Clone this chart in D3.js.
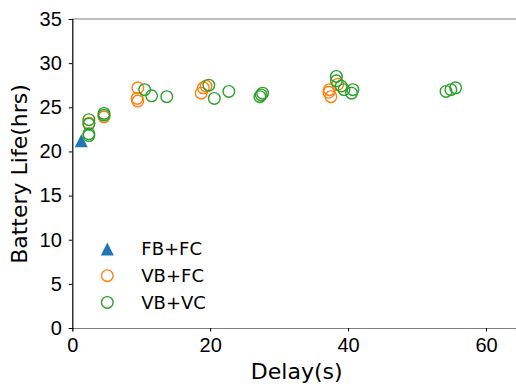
<!DOCTYPE html>
<html>
<head>
<meta charset="utf-8">
<script src="https://cdn.jsdelivr.net/npm/d3@7"></script>
<style>
  body { margin: 0; background: #fff; }
  svg { display: block; font-family: 'DejaVu Sans', sans-serif; }
</style>
</head>
<body>
<div id="chart"></div>
<script>
// Series data (delay in s, battery life in hrs)
const fbfcDelay = [1.3];
const fbfcLife = [21.2];

const vbfcDelay = [2.4, 4.6, 9.5, 9.4, 9.5, 18.7, 19.0, 19.4, 37.3, 37.5, 37.2, 38.5];
const vbfcLife = [23.2, 23.9, 27.2, 26.0, 25.7, 26.6, 27.2, 27.4, 27.0, 26.2, 26.7, 27.6];

const vbvcDelay = [2.4, 2.4, 2.4, 2.4, 4.6, 4.6, 10.5, 11.5, 13.7, 19.8, 20.6, 22.7,
  27.2, 27.6, 27.4, 38.3, 38.3, 39.0, 39.4, 40.7, 40.5, 54.2, 54.9, 55.6];
const vbvcLife = [23.6, 23.1, 22.0, 21.8, 24.3, 24.1, 27.0, 26.3, 26.2, 27.5, 26.0, 26.8,
  26.2, 26.6, 26.4, 28.5, 28.0, 27.4, 27.0, 27.0, 26.6, 26.8, 27.0, 27.2];

const seriesNames = ['FB+FC', 'VB+FC', 'VB+VC'];
const xTicks = [0, 20, 40, 60];
const yTicks = [0, 5, 10, 15, 20, 25, 30, 35];

const colors = ['#1f77b4', '#ff7f0e', '#2ca02c'];

const W = 516;
const H = 386;
const margin = { top: 19, right: 0, bottom: 58, left: 72.3 };

const svg = d3
  .select('#chart')
  .append('svg')
  .attr('width', W)
  .attr('height', H);

const x = d3.scaleLinear().domain([0, 64.35]).range([margin.left, W - margin.right]);
const y = d3.scaleLinear().domain([0, 35]).range([H - margin.bottom, margin.top]);

const zip = (xs, ys) => xs.map((v, i) => ({ x: v, y: ys[i] }));
const series = [zip(fbfcDelay, fbfcLife), zip(vbfcDelay, vbfcLife), zip(vbvcDelay, vbvcLife)];

// marker shapes
const tri = 'M0,-6.5L-6.5,6.5L6.5,6.5Z';

// top spine
svg
  .append('line')
  .attr('x1', x(0))
  .attr('x2', W)
  .attr('y1', y(35))
  .attr('y2', y(35))
  .attr('stroke', '#808080')
  .attr('stroke-width', 1.2);

// x axis
const xAxis = svg
  .append('g')
  .attr('transform', `translate(0, ${y(0)})`)
  .call(d3.axisBottom(x).tickValues(xTicks).tickSize(3.5).tickPadding(6).tickFormat(d3.format('d')));
xAxis.select('.domain').attr('stroke', '#808080').attr('stroke-width', 1.2);
xAxis.selectAll('text').style('font-size', '20px').attr('fill', '#000');

// y axis
const yAxis = svg
  .append('g')
  .attr('transform', `translate(${x(0)}, 0)`)
  .call(d3.axisLeft(y).tickValues(yTicks).tickSize(3.5).tickPadding(7).tickFormat(d3.format('d')));
yAxis.select('.domain').attr('stroke', '#000').attr('stroke-width', 1.2);
yAxis.selectAll('text').style('font-size', '20px').attr('fill', '#000');
yAxis.selectAll('.tick line').attr('stroke', '#000');

// axis labels
svg
  .append('text')
  .attr('x', 296.7)
  .attr('y', 379)
  .attr('text-anchor', 'middle')
  .style('font-size', '22px')
  .text('Delay(s)');

svg
  .append('text')
  .attr('transform', 'translate(27, 174) rotate(-90)')
  .attr('text-anchor', 'middle')
  .style('font-size', '22px')
  .text('Battery Life(hrs)');

// points
svg
  .append('g')
  .selectAll('path')
  .data(series[0])
  .enter()
  .append('path')
  .attr('d', tri)
  .attr('transform', (d) => `translate(${x(d.x)}, ${y(d.y)})`)
  .attr('fill', colors[0]);

[1, 2].forEach((s) => {
  svg
    .append('g')
    .selectAll('circle')
    .data(series[s])
    .enter()
    .append('circle')
    .attr('cx', (d) => x(d.x))
    .attr('cy', (d) => y(d.y))
    .attr('r', 5.8)
    .attr('fill', 'none')
    .attr('stroke', colors[s])
    .attr('stroke-width', 1.4);
});

// legend
const legend = svg.append('g').attr('transform', 'translate(107.3, 249)');
seriesNames.forEach((name, i) => {
  const row = legend.append('g').attr('transform', `translate(0, ${i * 26.7})`);
  if (i === 0) {
    row.append('path').attr('d', tri).attr('fill', colors[0]);
  } else {
    row
      .append('circle')
      .attr('r', 5.8)
      .attr('fill', 'none')
      .attr('stroke', colors[i])
      .attr('stroke-width', 1.4);
  }
  row
    .append('text')
    .attr('x', 34)
    .attr('dy', '0.36em')
    .style('font-size', '18px')
    .text(name);
});
</script>
</body>
</html>
